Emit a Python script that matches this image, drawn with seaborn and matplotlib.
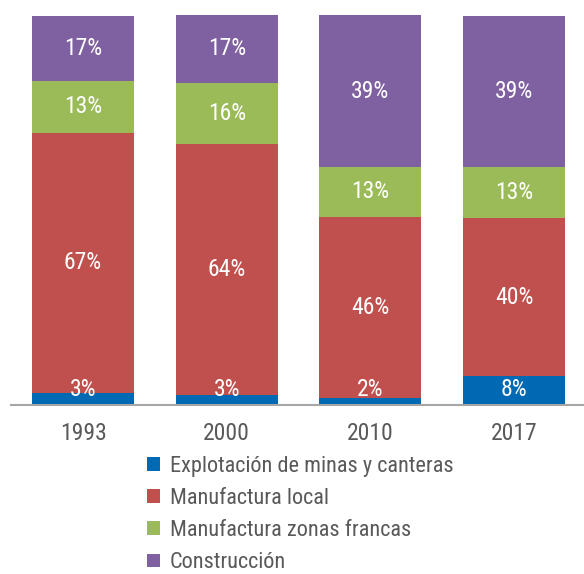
import numpy as np
import pandas as pd
import matplotlib
matplotlib.use('Agg')
import matplotlib.pyplot as plt
from matplotlib.patches import Patch
import seaborn as sns

# Datos (participación %)
years = ['1993', '2000', '2010', '2017']
series = ['Explotación de minas y canteras', 'Manufactura local',
          'Manufactura zonas francas', 'Construcción']
minas = [3.2, 2.6, 1.9, 7.5]
manuf_local = [66.6, 64.4, 46.4, 40.4]
zonas_francas = [13.3, 15.7, 12.7, 13.1]
construccion = [16.6, 17.4, 39.0, 38.9]
colors = ['#0069B4', '#C0504D', '#9BBB59', '#7F60A0']

sns.set_style('white')
plt.rcParams['font.family'] = ['Liberation Sans Narrow', 'Roboto Condensed', 'DejaVu Sans']

df = pd.DataFrame({'year': years, series[0]: minas, series[1]: manuf_local,
                   series[2]: zonas_francas, series[3]: construccion})
vals = df[series].to_numpy()
cum = vals.cumsum(axis=1)

fig = plt.figure(figsize=(5.84, 5.74), dpi=100)
ax = fig.add_axes([0.0192, 0.2944, 0.984, 0.688])

# barras apiladas: se dibujan los acumulados de mayor a menor
for i in reversed(range(len(series))):
    sns.barplot(x=df['year'], y=cum[:, i], color=colors[i], width=0.71,
                saturation=1, edgecolor='none', linewidth=0, ax=ax)

# etiquetas de porcentaje
for j in range(len(years)):
    for i in range(len(series)):
        bottom = cum[j, i] - vals[j, i]
        y = bottom + vals[j, i] / 2
        if i == 0:
            y = max(y, 4)
        ax.text(j, y, f'{round(vals[j, i]):d}%', ha='center', va='center',
                color='white', fontsize=17)

ax.set_xlim(-0.5, 3.5)
ax.set_ylim(0, 101.3)
ax.set_ylabel('')
ax.set_xlabel('')
ax.set_yticks([])
for s in ['top', 'left', 'right']:
    ax.spines[s].set_visible(False)
ax.spines['bottom'].set_color('#A6A6A6')
ax.spines['bottom'].set_linewidth(1.5)
ax.set_xticks(np.arange(-0.5, 4, 1), minor=True)
ax.tick_params(axis='x', which='minor', length=14, width=1.5, color='#A6A6A6')
ax.tick_params(axis='x', which='major', length=0, pad=12, labelsize=17,
               labelcolor='#595959')

handles = [Patch(facecolor=c, edgecolor='none') for c in colors]
fig.legend(handles, series, loc='upper left', bbox_to_anchor=(147 / 584, 1 - 456 / 574),
           frameon=False, fontsize=16, labelcolor='#595959', borderpad=0,
           borderaxespad=0, handlelength=0.58, handleheight=0.58,
           handletextpad=0.45, labelspacing=0.5)

fig.savefig('out.png', dpi=100)
